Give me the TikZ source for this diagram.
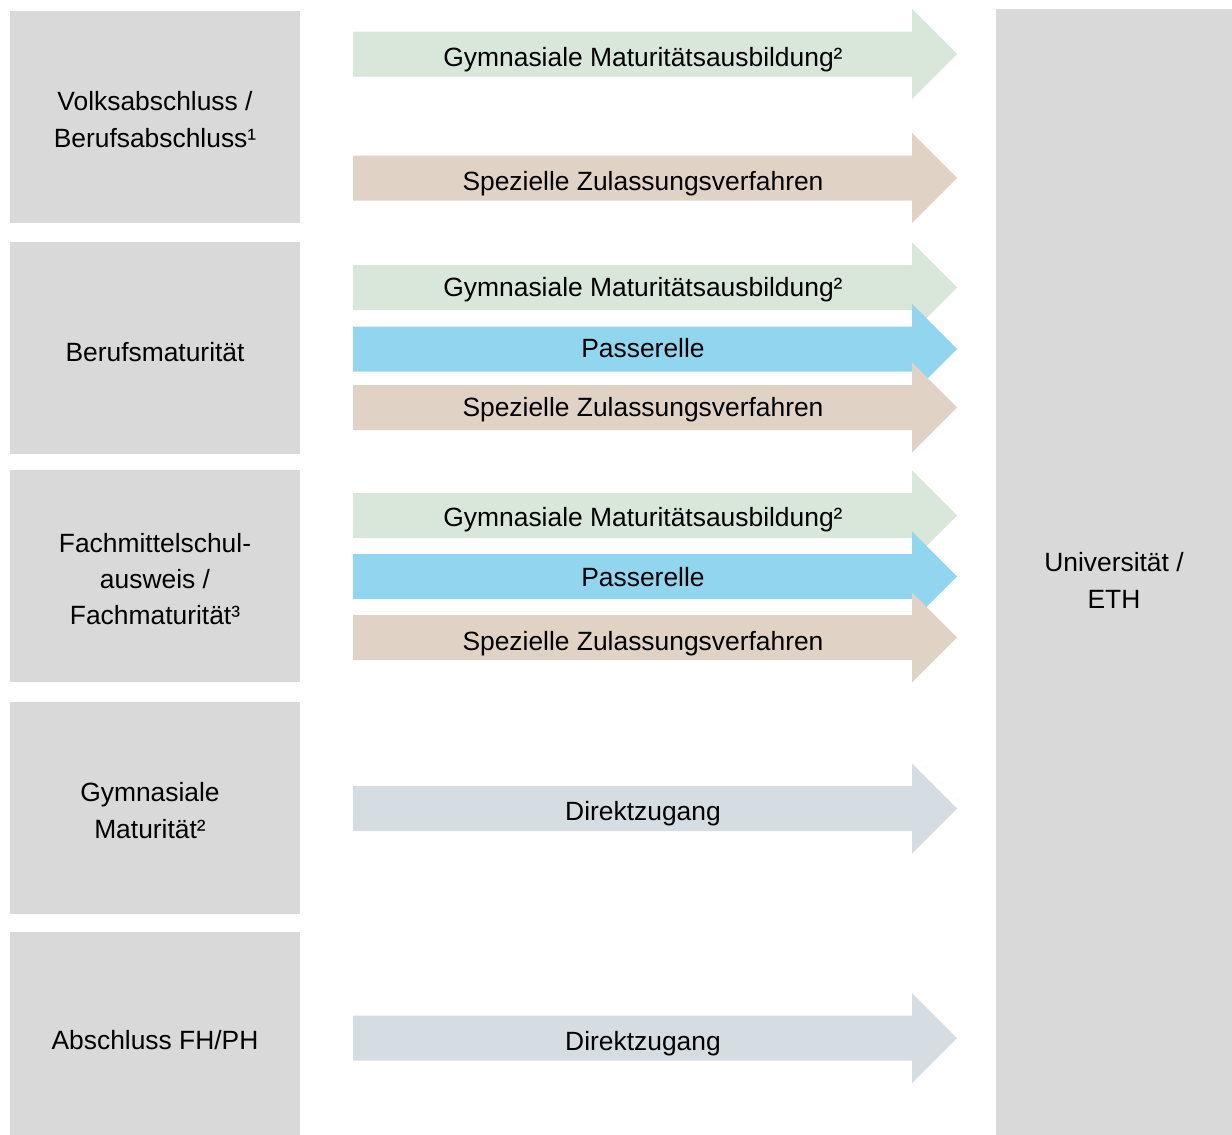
\documentclass[tikz,border=0pt]{standalone}
\usepackage{fontspec}
\setmainfont{Liberation Sans}
\definecolor{grau}{HTML}{D9D9D9}
\definecolor{gruen}{HTML}{D8E7DA}
\definecolor{blau}{HTML}{92D5EE}
\definecolor{beige}{HTML}{E0D3C6}
\definecolor{graublau}{HTML}{D5DDE3}

\begin{document}
\begin{tikzpicture}[x=1pt,y=-1pt]
  \newcommand{\schrift}{\fontsize{26.4}{36.3}\selectfont}
  \useasboundingbox (0,0) rectangle (1232,1135);
  \tikzstyle{every node}=[inner sep=0pt, align=center, font=\schrift];
  \tikzstyle{box}=[fill=grau, minimum width=290pt];
  % Abschluesse links
  \foreach \n/\yb/\h/\xt/\yt/\txt in {A/117/212/155/119.5/{Volksabschluss /\\Berufsabschluss¹},
    B/348/212/155/352/Berufsmaturität,
    C/576/212/155/579/{Fachmittelschul-\\ausweis /\\Fachmaturität³},
    D/808/212/150/810.5/{Gymnasiale\\Maturität²},
    E/1033.5/203/155/1040.5/{Abschluss FH/PH}}{
    \node[box, minimum height=\h pt] (b\n) at (155,\yb) {};
    \node (t\n) at (\xt,\yt) {\txt};
  }
  % Ziel rechts
  \node[box, minimum width=236pt, minimum height=1126pt] (uni) at (1114,572) {};
  \node (unitxt) at (1114,580.3) {Universität /\\ETH};
  % Wege
  \foreach \n/\y/\yt/\farbe/\txt in {gA/54/66.7/gruen/Gymnasiale Maturitätsausbildung²,
    sA/178/190/beige/Spezielle Zulassungsverfahren,
    gB/287.5/296.7/gruen/Gymnasiale Maturitätsausbildung²,
    pB/349/357.7/blau/Passerelle,
    sB/407.5/416.7/beige/Spezielle Zulassungsverfahren,
    gC/515.5/526.7/gruen/Gymnasiale Maturitätsausbildung²,
    pC/576.5/586.7/blau/Passerelle,
    sC/637.5/650/beige/Spezielle Zulassungsverfahren,
    dD/808.5/820/graublau/Direktzugang,
    dE/1038/1050/graublau/Direktzugang}{
    \fill[\farbe] (353,\y-22.5) -- (912,\y-22.5) -- (912,\y-45) -- (957,\y)
      -- (912,\y+45) -- (912,\y+22.5) -- (353,\y+22.5) -- cycle;
    \node[anchor=base] (w\n) at (643,\yt) {\txt};
  }
\end{tikzpicture}
\end{document}
